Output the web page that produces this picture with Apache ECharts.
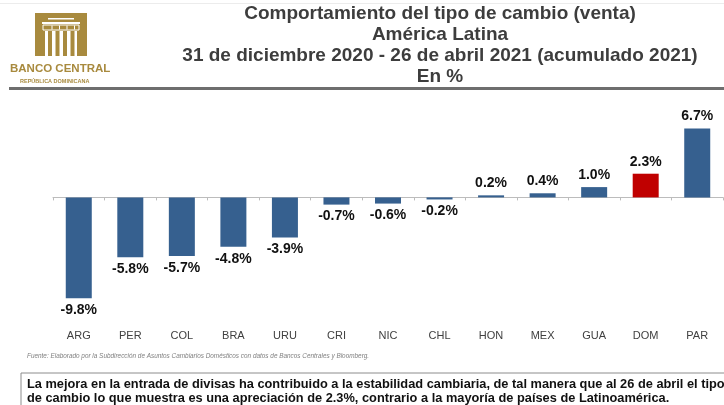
<!DOCTYPE html>
<html>
<head>
<meta charset="utf-8">
<script src="https://cdn.jsdelivr.net/npm/echarts@6/dist/echarts.min.js"></script>
<style>
  html, body { margin: 0; padding: 0; background: #fff; }
  #chart { width: 724px; height: 405px; }
</style>
</head>
<body>
<div id="chart"></div>
<script>
// data
var countries = ["ARG", "PER", "COL", "BRA", "URU", "CRI", "NIC", "CHL", "HON", "MEX", "GUA", "DOM", "PAR"];
var variacion = [-9.8, -5.8, -5.7, -4.8, -3.9, -0.7, -0.6, -0.2, 0.2, 0.4, 1.0, 2.3, 6.7];
var highlight = "DOM";

var titleLines = [
    "Comportamiento del tipo de cambio (venta)",
    "América Latina",
    "31 de diciembre 2020 - 26 de abril 2021 (acumulado 2021)",
    "En %"
];
var fuente = "Fuente: Elaborado por la Subdirección de Asuntos Cambiarios Domésticos con datos de Bancos Centrales y Bloomberg.";
var nota = [
    "La mejora en la entrada de divisas ha contribuido a la estabilidad cambiaria, de tal manera que al 26 de abril el tipo",
    "de cambio lo que muestra es una apreciación de 2.3%, contrario a la mayoría de países de Latinoamérica."
];

var BLUE = "#36608f";
var RED = "#c00000";
var GOLD = "#a88a3e";

var seriesData = [];
for (var i = 0; i < countries.length; ++i) {
    var v = variacion[i];
    seriesData.push({
        value: v,
        itemStyle: { color: countries[i] === highlight ? RED : BLUE },
        label: { position: v < 0 ? 'bottom' : 'top' }
    });
}

// logo: gold block with white column lines
var logo = [
    { type: 'rect', shape: { x: 35, y: 13, width: 52, height: 43 }, style: { fill: GOLD } },
    { type: 'rect', shape: { x: 48, y: 18, width: 26, height: 1.5 }, style: { fill: '#fff' } },
    { type: 'rect', shape: { x: 42, y: 22, width: 38, height: 2 }, style: { fill: '#fff' } },
    { type: 'rect', shape: { x: 43, y: 25, width: 36, height: 5 }, style: { fill: 'none', stroke: '#fff', lineWidth: 1 } },
    { type: 'rect', shape: { x: 45, y: 31, width: 32, height: 25 }, style: { fill: '#fff' } }
];
for (var c = 0; c < 4; ++c) {
    logo.push({ type: 'rect', shape: { x: 48 + c * 7.5, y: 31, width: 4, height: 25 }, style: { fill: GOLD } });
}
for (var c2 = 0; c2 < 4; ++c2) {
    logo.push({ type: 'rect', shape: { x: 51.5 + c2 * 7.5, y: 25.5, width: 1, height: 4 }, style: { fill: '#fff' } });
}

var graphics = logo.concat([
    { type: 'text', left: 10, top: 63, style: { text: "BANCO CENTRAL", fill: GOLD, font: 'bold 11.5px "Liberation Sans", Arial, sans-serif' } },
    { type: 'text', left: 20, top: 78, style: { text: "REPÚBLICA DOMINICANA", fill: GOLD, font: 'bold 5.5px "Liberation Sans", Arial, sans-serif' } },
    { type: 'rect', shape: { x: 0, y: 3, width: 724, height: 1 }, style: { fill: '#ececec' } },
    { type: 'rect', shape: { x: 9, y: 87, width: 715, height: 3 }, style: { fill: '#6e6e6e' } },
    { type: 'text', left: 27, top: 353, style: { text: fuente, fill: '#7f7f7f', font: 'italic 6.4px "Liberation Sans", Arial, sans-serif' } },
    { type: 'rect', shape: { x: 21, y: 373, width: 740, height: 60 }, style: { fill: '#fff', stroke: '#8c8c8c', lineWidth: 1 } },
    {
        type: 'text', left: 27, top: 377,
        style: {
            text: nota.join('\n'), fill: '#111', lineHeight: 14,
            width: 700, overflow: 'truncate', ellipsis: '',
            font: 'bold 12.8px "Liberation Sans", Arial, sans-serif'
        }
    }
]);

var chart = echarts.init(document.getElementById('chart'));
chart.setOption({
    animation: false,
    backgroundColor: '#fff',
    title: {
        text: titleLines.join('\n'),
        left: 440,
        top: 3,
        padding: 0,
        textAlign: 'center',
        textStyle: {
            fontFamily: '"Liberation Sans", Arial, sans-serif',
            fontSize: 19,
            fontWeight: 'bold',
            color: '#3d3d3d',
            lineHeight: 21,
            align: 'center'
        }
    },
    grid: { left: 53, right: 1, top: 115, bottom: 84 },
    xAxis: [
        {
            type: 'category',
            data: countries,
            position: 'bottom',
            axisLine: { show: false, onZero: false },
            axisTick: { show: false },
            axisLabel: { margin: 9, fontSize: 11, color: '#404040', fontFamily: '"Liberation Sans", Arial, sans-serif' }
        },
        {
            type: 'category',
            data: countries,
            position: 'bottom',
            axisLine: { show: true, onZero: true, lineStyle: { color: '#bcbcbc', width: 1 } },
            axisTick: { show: true, length: 3, lineStyle: { color: '#bcbcbc' } },
            axisLabel: { show: false }
        }
    ],
    yAxis: {
        type: 'value',
        min: -12,
        max: 8,
        show: false,
        splitLine: { show: false }
    },
    series: [{
        type: 'bar',
        xAxisIndex: 0,
        barWidth: 26,
        data: seriesData,
        label: {
            show: true,
            distance: 5,
            fontSize: 14,
            fontWeight: 'bold',
            color: '#111',
            fontFamily: '"Liberation Sans", Arial, sans-serif',
            formatter: function (p) { return p.value.toFixed(1) + '%'; }
        }
    }],
    graphic: graphics
});
</script>
</body>
</html>
